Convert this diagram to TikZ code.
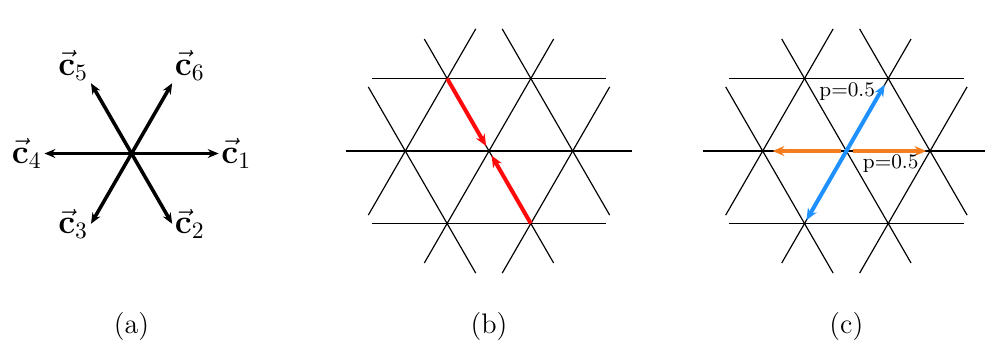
\documentclass[tikz,border=0pt]{standalone}
\usetikzlibrary{arrows.meta}

\definecolor{hopred}{RGB}{255,10,10}
\definecolor{hopblue}{RGB}{30,144,255}
\definecolor{hoporange}{RGB}{245,125,30}

\begin{document}
\begin{tikzpicture}[x=1.25cm, y=1.25cm,
  grid line/.style={line width=0.5pt},
  vec arrow/.style={-{Stealth[length=4.6pt,width=3.8pt]}, line width=1.5pt},
  vec label/.style={font=\Large, inner sep=1pt},
  hop/.style={-{Stealth[length=5pt,width=4.2pt]}, line width=1.7pt},
  prob/.style={font=\fontsize{8.8}{10}\selectfont, inner sep=1pt},
  subcap/.style={font=\large}]

\useasboundingbox (-5.842,-2.342) rectangle (5.926,1.804);

% (a) the six lattice vectors
\begin{scope}[shift={(-4.27,-0.03)}]
\coordinate (a0) at (0,0);
\coordinate (v1) at (0:1.04);
\coordinate (v2) at (300:0.97);
\coordinate (v3) at (240:0.97);
\coordinate (v4) at (180:1.04);
\coordinate (v5) at (120:0.97);
\coordinate (v6) at (60:0.97);

\draw[vec arrow] (a0) -- (v1);
\draw[vec arrow] (a0) -- (v2);
\draw[vec arrow] (a0) -- (v3);
\draw[vec arrow] (a0) -- (v4);
\draw[vec arrow] (a0) -- (v5);
\draw[vec arrow] (a0) -- (v6);

\node[vec label, anchor=west] (l1) at (v1) {$\vec{\mathbf{c}}_1$};
\node[vec label, anchor=west] (l2) at (v2) {$\vec{\mathbf{c}}_2$};
\node[vec label, anchor=east] (l3) at (v3) {$\vec{\mathbf{c}}_3$};
\node[vec label, anchor=east] (l4) at (v4) {$\vec{\mathbf{c}}_4$};
\node[vec label, anchor=south east] (l5) at (v5) {$\vec{\mathbf{c}}_5$};
\node[vec label, anchor=south west] (l6) at (v6) {$\vec{\mathbf{c}}_6$};
\end{scope}

% (b) lattice, two particles hopping onto the same site
\begin{scope}[shift={(0,0)}]
\draw[grid line] (-1.40,0.866) -- (1.40,0.866);
\draw[grid line] (-1.71,0) -- (1.71,0);
\draw[grid line] (-1.40,-0.866) -- (1.40,-0.866);
\draw[grid line] (-0.7725,-1.338) -- (0.7725,1.338);
\draw[grid line] (-1.442,-0.766) -- (-0.158,1.459);
\draw[grid line] (0.158,-1.459) -- (1.442,0.766);
\draw[grid line] (0.7725,-1.338) -- (-0.7725,1.338);
\draw[grid line] (1.442,-0.766) -- (0.158,1.459);
\draw[grid line] (-0.158,-1.459) -- (-1.442,0.766);

\coordinate (b0) at (0,0);
\coordinate (bTL) at (-0.5,0.866);
\coordinate (bBR) at (0.5,-0.866);

\draw[hop, hopred, shorten >=2.4pt] (bTL) -- (b0);
\draw[hop, hopred, shorten >=2.2pt] (bBR) -- (b0);
\end{scope}

% (c) lattice, two possible moves with equal probability
\begin{scope}[shift={(4.27,0)}]
\draw[grid line] (-1.40,0.866) -- (1.40,0.866);
\draw[grid line] (-1.71,0) -- (1.71,0);
\draw[grid line] (-1.40,-0.866) -- (1.40,-0.866);
\draw[grid line] (-0.7725,-1.338) -- (0.7725,1.338);
\draw[grid line] (-1.442,-0.766) -- (-0.158,1.459);
\draw[grid line] (0.158,-1.459) -- (1.442,0.766);
\draw[grid line] (0.7725,-1.338) -- (-0.7725,1.338);
\draw[grid line] (1.442,-0.766) -- (0.158,1.459);
\draw[grid line] (-0.158,-1.459) -- (-1.442,0.766);

\coordinate (c0) at (0,0);
\coordinate (cL) at (-1,0);
\coordinate (cR) at (1,0);
\coordinate (cTR) at (0.5,0.866);
\coordinate (cBL) at (-0.5,-0.866);

\draw[hop, hopblue, {Stealth[length=5pt,width=4.2pt]}-{Stealth[length=5pt,width=4.2pt]}, shorten <=1.6pt, shorten >=3pt] (cBL) -- (cTR);
\draw[hop, hoporange, shorten <=2.1pt, shorten >=4.2pt] (c0) -- (cL);
\draw[hop, hoporange, shorten <=2.8pt, shorten >=1.6pt] (c0) -- (cR);

\node[prob] (pup) at (0.01,0.713) {p=0.5};
\node[prob] (pright) at (0.53,-0.147) {p=0.5};
\end{scope}

\node[subcap] (capa) at (-4.27,-2.10) {(a)};
\node[subcap] (capb) at (0,-2.10) {(b)};
\node[subcap] (capc) at (4.27,-2.10) {(c)};
\end{tikzpicture}
\end{document}
